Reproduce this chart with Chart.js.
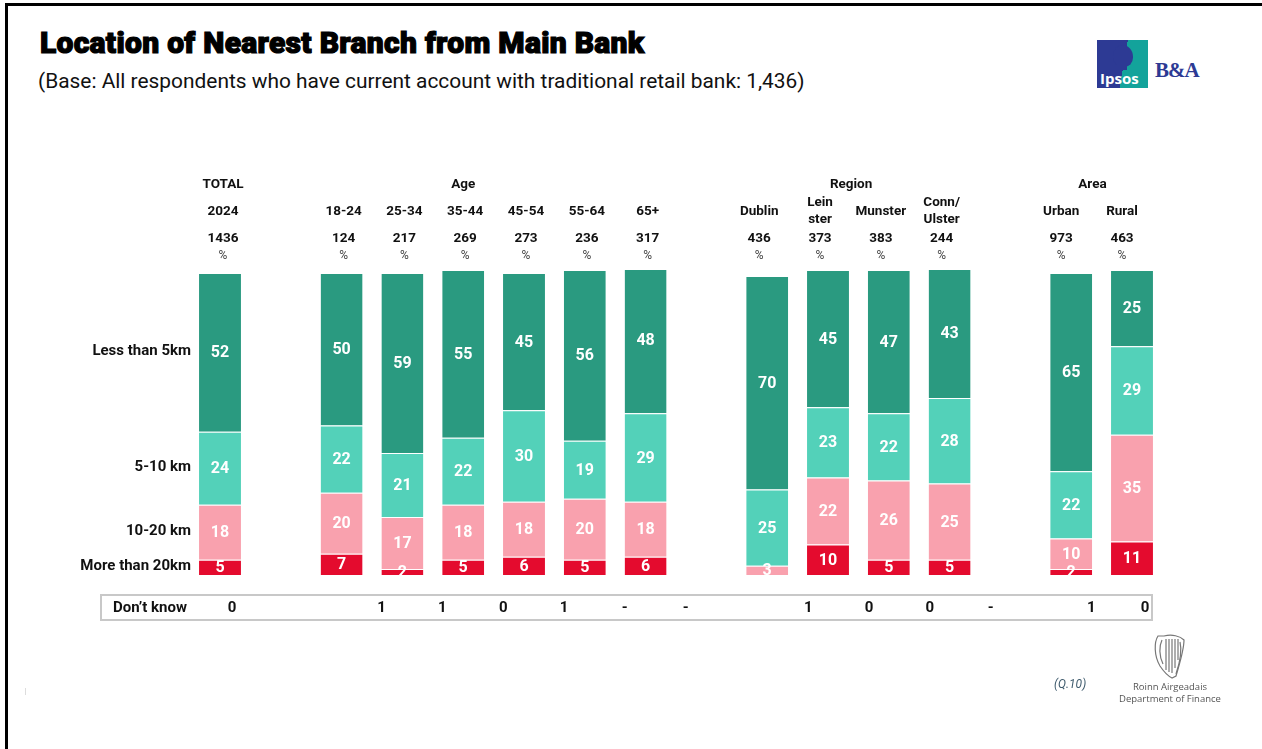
<!DOCTYPE html>
<html>
<head>
<meta charset="utf-8">
<title>Location of Nearest Branch from Main Bank</title>
<script src="https://cdn.jsdelivr.net/npm/chart.js@4.4.1/dist/chart.umd.min.js"></script>
<style>
    html, body { margin: 0; padding: 0; background: #fff; }
    body { width: 1262px; height: 749px; position: relative; overflow: hidden; font-family: Roboto, "Noto Sans", sans-serif; }
    .frame-top { position: absolute; left: 5px; top: 3px; width: 1257px; height: 3px; background: #000; }
    .frame-left { position: absolute; left: 5px; top: 3px; width: 3px; height: 746px; background: #000; }
    #chart { position: absolute; left: 0; top: 0; }
    .title { position: absolute; left: 40px; top: 25px; font-size: 30px; font-weight: 900; color: #000; letter-spacing: 0.3px; -webkit-text-stroke: 1.2px #000; }
    .subtitle { position: absolute; left: 38px; top: 69px; font-size: 20.9px; color: #111; }
    .ipsos { position: absolute; left: 1097px; top: 40px; width: 51px; height: 48px; overflow: hidden;
             background: linear-gradient(100deg, #2d3a94 0 52%, #13a39b 52% 100%); }
    .ipsos .head { position: absolute; left: 16px; top: 5px; width: 20px; height: 22px; border-radius: 50% 55% 45% 50%; background: #2d3a94; }
    .ipsos .neck { position: absolute; left: 20px; top: 22px; width: 10px; height: 8px; background: #2d3a94; }
    .ipsos span { position: absolute; left: 3px; top: 28px; font-size: 15px; font-weight: 700; color: #fff; font-family: "Open Sans", sans-serif; }
    .ba { position: absolute; left: 1155px; top: 58px; font-size: 21px; font-weight: 700; color: #2d3a94; font-family: "Liberation Serif", serif; letter-spacing: -1px; }
    .qref { position: absolute; left: 1054px; top: 677px; font-size: 12px; font-style: italic; color: #3f5b6d; }
    .dof { position: absolute; left: 1110px; top: 681px; width: 120px; text-align: center; font-size: 9.5px; line-height: 12px; color: #555; font-family: "Open Sans", sans-serif; }
    .harp { position: absolute; left: 1150px; top: 632px; }
    .tick { position: absolute; left: 25px; top: 688px; width: 1px; height: 7px; background: #ddd; }
</style>
</head>
<body>
<div class="frame-top"></div>
<div class="frame-left"></div>
<div class="title">Location of Nearest Branch from Main Bank</div>
<div class="subtitle">(Base: All respondents who have current account with traditional retail bank: 1,436)</div>
<div class="ipsos"><div class="head"></div><div class="neck"></div><span>Ipsos</span></div>
<div class="ba">B&amp;A</div>
<canvas id="chart" width="1262" height="749"></canvas>
<div class="qref">(Q.10)</div>
<svg class="harp" width="40" height="48" viewBox="0 0 40 48">
    <g fill="none" stroke="#777" stroke-width="1.2">
        <path d="M8 4 C4 10 4 24 10 34 C14 40 18 44 22 46 L26 44 C30 30 34 18 34 8 C30 4 22 2 14 4 Z"/>
        <path d="M12 8 C9 14 9 24 13 32"/>
        <path d="M16 7 L16 38 M19 7 L19 40 M22 7 L22 41 M25 7 L25 36 M28 7 L28 28"/>
        <path d="M30 10 C32 18 30 30 26 42"/>
    </g>
</svg>
<div class="dof">Roinn Airgeadais<br>Department of Finance</div>
<div class="tick"></div>

<script>
// --- columns, bases and groups ---
const columns = ['2024', '18-24', '25-34', '35-44', '45-54', '55-64', '65+', 'Dublin', 'Lein\nster', 'Munster', 'Conn/\nUlster', 'Urban', 'Rural'];
const bases = ['1436', '124', '217', '269', '273', '236', '317', '436', '373', '383', '244', '973', '463'];
const groupNames = ['TOTAL', 'Age', 'Region', 'Area'];
const groupSizes = [1, 6, 4, 2];

// --- series (%), bottom of the stack first ---
const seriesNames = ['More than 20km', '10-20 km', '5-10 km', 'Less than 5km'];
const moreThan20km = [5, 7, 2, 5, 6, 5, 6, 0, 10, 5, 5, 2, 11];
const tenTo20km = [18, 20, 17, 18, 18, 20, 18, 3, 22, 26, 25, 10, 35];
const fiveTo10km = [24, 22, 21, 22, 30, 19, 29, 25, 23, 22, 28, 22, 29];
const lessThan5km = [52, 50, 59, 55, 45, 56, 48, 70, 45, 47, 43, 65, 25];
const dontKnow = ['0', '1', '1', '0', '1', '-', '-', '1', '0', '0', '-', '1', '0'];

const colors = ['#e40b2e', '#f9a1ae', '#53d1b9', '#2a9a80'];

// one empty slot between groups
const slotOf = [];
const labels = [];
groupSizes.forEach((n, g) => {
    if (g > 0) labels.push('');
    for (let i = 0; i < n; i++) {
        slotOf.push(labels.length);
        labels.push(columns[slotOf.length - 1]);
    }
});
const toSlots = arr => {
    const out = labels.map(() => null);
    arr.forEach((v, i) => { out[slotOf[i]] = v; });
    return out;
};

// header tweaks (px) and where each group name sits (in slot units)
const groupNudge = [3, 2, -8, -10];
const groupAnchor = [0, 4, 10.38, 14.35];
const dkShift = [12, 40, 40, 40, 40, 40, 40, 41, 41, 41, 41, 20, 13];

const FONT = 'Roboto, "Noto Sans", sans-serif';

const overlay = {
    id: 'overlay',
    afterDatasetsDraw(chart) {
        const ctx = chart.ctx;
        const x = chart.scales.x;
        ctx.save();
        ctx.textAlign = 'center';
        ctx.textBaseline = 'middle';

        // values inside the segments
        ctx.fillStyle = '#fff';
        ctx.font = `bold 16px ${FONT}`;
        chart.data.datasets.forEach((ds, d) => {
            chart.getDatasetMeta(d).data.forEach((bar, i) => {
                const v = ds.data[i];
                if (v === null || v === 0) return;
                ctx.fillText(String(v), bar.x, (bar.y + bar.base) / 2 + 1);
            });
        });

        // row labels, aligned with the total bar's segments
        ctx.fillStyle = '#111';
        ctx.font = `bold 15px ${FONT}`;
        ctx.textAlign = 'right';
        seriesNames.forEach((name, d) => {
            const bar = chart.getDatasetMeta(d).data[0];
            ctx.fillText(name, 191, (bar.y + bar.base) / 2 - 1);
        });

        // group names, column names, bases and %
        ctx.textAlign = 'center';
        ctx.font = `bold 13.5px ${FONT}`;
        groupNames.forEach((g, i) => {
            ctx.fillText(g, x.getPixelForValue(groupAnchor[i]) + (i === 0 ? groupNudge[0] : 0), 185);
        });
        let col = 0;
        groupSizes.forEach((n, g) => {
            for (let k = 0; k < n; k++, col++) {
                const cx = x.getPixelForValue(slotOf[col]) + groupNudge[g];
                const lines = columns[col].split('\n');
                ctx.fillStyle = '#111';
                ctx.font = `bold 13.5px ${FONT}`;
                if (lines.length === 1) {
                    ctx.fillText(lines[0], cx, 212);
                } else {
                    ctx.fillText(lines[0], cx, 203);
                    ctx.fillText(lines[1], cx, 220);
                }
                ctx.fillText(bases[col], cx, 239);
                ctx.fillStyle = '#444';
                ctx.font = `12px ${FONT}`;
                ctx.fillText('%', cx, 256);
            }
        });

        // "Don't know" table row
        ctx.strokeStyle = '#c8c8c8';
        ctx.lineWidth = 2;
        ctx.strokeRect(101, 595, 1051, 25);
        ctx.fillStyle = '#111';
        ctx.font = `bold 15px ${FONT}`;
        ctx.textAlign = 'left';
        ctx.fillText('Don\u2019t know', 113, 608);
        ctx.textAlign = 'center';
        dontKnow.forEach((v, i) => {
            ctx.fillText(v, x.getPixelForValue(slotOf[i]) + dkShift[i], 608);
        });
        ctx.restore();
    }
};

new Chart(document.getElementById('chart'), {
    type: 'bar',
    data: {
        labels: labels,
        datasets: [moreThan20km, tenTo20km, fiveTo10km, lessThan5km].map((arr, d) => ({
            label: seriesNames[d],
            data: toSlots(arr),
            backgroundColor: colors[d],
            borderColor: '#fff',
            borderWidth: { top: 1, bottom: 0, left: 0, right: 0 },
            borderSkipped: false,
            barPercentage: 0.69,
            categoryPercentage: 1
        }))
    },
    options: {
        responsive: false,
        animation: false,
        layout: { padding: { left: 189.6, right: 99.6, top: 270, bottom: 174 } },
        plugins: { legend: { display: false }, tooltip: { enabled: false } },
        scales: {
            x: { stacked: true, display: false, offset: true },
            y: { stacked: true, display: false, min: 0, max: 100 }
        }
    },
    plugins: [overlay]
});
</script>
</body>
</html>
